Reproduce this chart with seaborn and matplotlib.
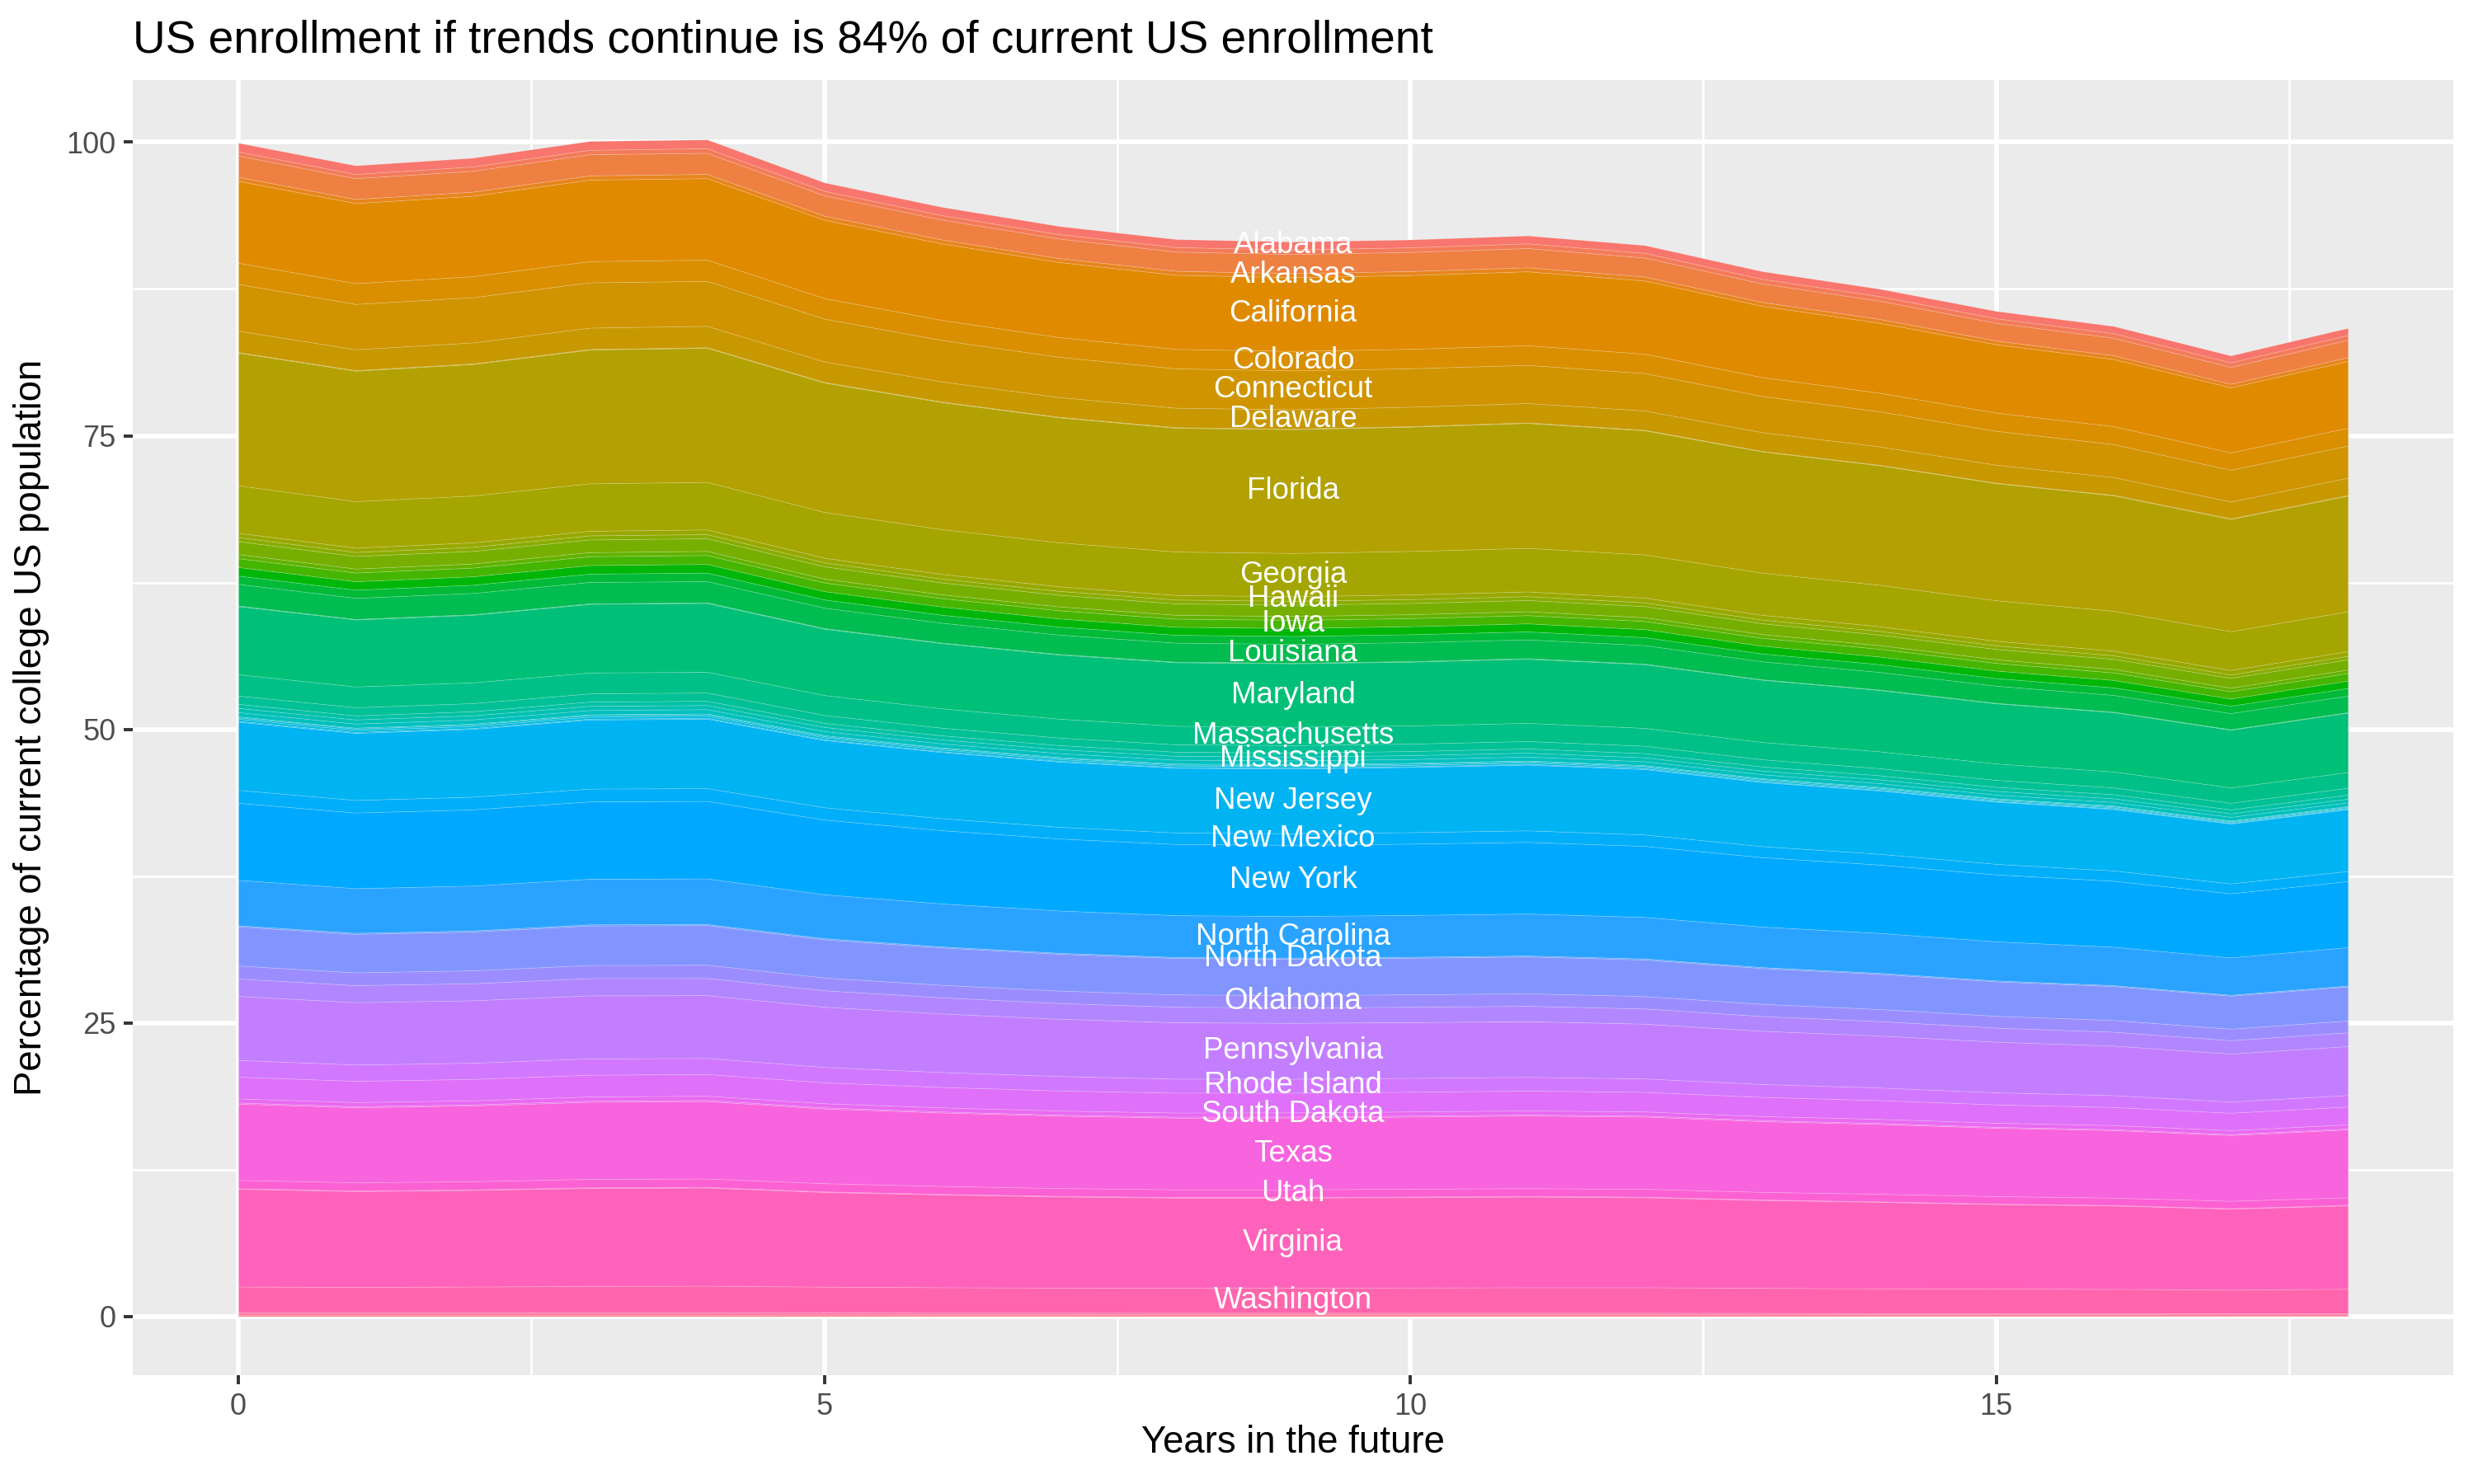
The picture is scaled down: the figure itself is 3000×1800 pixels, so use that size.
import numpy as np
import pandas as pd
import matplotlib
matplotlib.use("Agg")
import matplotlib.pyplot as plt
import seaborn as sns

# ---------------- data ----------------
years = list(range(19))

states = ["Alabama", "Alaska", "Arizona", "Arkansas", "California", "Colorado", "Connecticut",
          "Delaware", "District of Columbia", "Florida", "Georgia", "Hawaii", "Idaho", "Illinois",
          "Indiana", "Iowa", "Kansas", "Kentucky", "Louisiana", "Maine", "Maryland", "Massachusetts",
          "Michigan", "Minnesota", "Mississippi", "Missouri", "Montana", "Nebraska", "Nevada",
          "New Hampshire", "New Jersey", "New Mexico", "New York", "North Carolina", "North Dakota",
          "Ohio", "Oklahoma", "Oregon", "Pennsylvania", "Rhode Island", "South Carolina",
          "South Dakota", "Tennessee", "Texas", "Utah", "Vermont", "Virginia", "Washington",
          "West Virginia", "Wisconsin", "Wyoming"]

alabama = [0.75,0.73,0.74,0.75,0.75,0.72,0.70,0.69,0.68,0.67,0.67,0.67,0.66,0.65,0.63,0.62,0.61,0.59,0.61]
alaska = [0.34,0.36,0.37,0.38,0.39,0.38,0.38,0.38,0.38,0.39,0.39,0.40,0.40,0.39,0.39,0.39,0.39,0.38,0.40]
arizona = [1.81,1.77,1.78,1.80,1.80,1.73,1.69,1.66,1.64,1.63,1.63,1.64,1.62,1.58,1.55,1.51,1.49,1.44,1.48]
arkansas = [0.35,0.35,0.35,0.36,0.36,0.35,0.34,0.34,0.34,0.34,0.34,0.34,0.34,0.33,0.33,0.32,0.32,0.31,0.32]
california = [6.97,6.82,6.85,6.94,6.94,6.67,6.52,6.39,6.31,6.28,6.28,6.30,6.23,6.07,5.96,5.82,5.72,5.54,5.69]
colorado = [1.81,1.77,1.79,1.81,1.81,1.75,1.71,1.68,1.66,1.66,1.66,1.67,1.65,1.61,1.58,1.55,1.53,1.48,1.52]
connecticut = [3.98,3.86,3.85,3.86,3.83,3.65,3.53,3.43,3.35,3.31,3.28,3.25,3.19,3.08,2.99,2.89,2.81,2.70,2.74]
delaware = [1.82,1.78,1.79,1.82,1.82,1.75,1.71,1.68,1.66,1.65,1.65,1.65,1.64,1.60,1.57,1.53,1.51,1.44,1.48]
district_of_columbia = [0.05,0.05,0.05,0.05,0.05,0.05,0.05,0.05,0.05,0.05,0.05,0.05,0.05,0.04,0.04,0.04,0.04,0.04,0.04]
florida = [11.30,11.11,11.20,11.39,11.42,11.02,10.82,10.64,10.54,10.54,10.58,10.64,10.57,10.33,10.18,9.97,9.84,9.57,9.86]
georgia = [4.04,3.96,3.99,4.04,4.05,3.90,3.82,3.75,3.70,3.69,3.70,3.71,3.68,3.59,3.53,3.45,3.40,3.30,3.39]
hawaii = [0.37,0.37,0.38,0.39,0.40,0.39,0.39,0.39,0.39,0.39,0.40,0.40,0.40,0.40,0.40,0.39,0.39,0.38,0.40]
idaho = [0.35,0.34,0.35,0.35,0.35,0.34,0.33,0.33,0.33,0.33,0.33,0.33,0.32,0.32,0.31,0.31,0.30,0.29,0.30]
illinois = [1.10,1.07,1.07,1.08,1.08,1.04,1.01,0.99,0.97,0.96,0.96,0.96,0.95,0.92,0.90,0.88,0.86,0.84,0.87]
indiana = [0.35,0.34,0.35,0.35,0.35,0.34,0.33,0.33,0.33,0.33,0.33,0.33,0.32,0.32,0.31,0.31,0.30,0.30,0.30]
iowa = [0.75,0.74,0.74,0.75,0.76,0.73,0.71,0.70,0.69,0.69,0.69,0.70,0.69,0.67,0.66,0.65,0.64,0.62,0.64]
kansas = [0.73,0.72,0.72,0.73,0.74,0.71,0.70,0.69,0.68,0.68,0.68,0.68,0.68,0.66,0.65,0.64,0.63,0.61,0.63]
kentucky = [0.70,0.69,0.70,0.71,0.72,0.70,0.68,0.68,0.67,0.67,0.68,0.68,0.68,0.67,0.66,0.65,0.64,0.63,0.65]
louisiana = [1.85,1.80,1.81,1.82,1.81,1.74,1.69,1.65,1.62,1.61,1.61,1.60,1.58,1.53,1.50,1.46,1.43,1.38,1.41]
maine = [0.05,0.05,0.05,0.05,0.05,0.05,0.05,0.05,0.05,0.05,0.05,0.05,0.05,0.04,0.04,0.04,0.04,0.04,0.04]
maryland = [5.80,5.70,5.75,5.84,5.86,5.65,5.55,5.46,5.41,5.40,5.43,5.46,5.42,5.30,5.22,5.12,5.05,4.91,5.06]
massachusetts = [1.82,1.77,1.77,1.78,1.77,1.70,1.65,1.61,1.58,1.56,1.55,1.55,1.52,1.47,1.44,1.40,1.36,1.31,1.34]
michigan = [0.70,0.69,0.69,0.70,0.70,0.67,0.65,0.64,0.63,0.63,0.63,0.63,0.63,0.61,0.60,0.59,0.58,0.56,0.58]
minnesota = [0.35,0.35,0.35,0.36,0.36,0.35,0.35,0.35,0.35,0.35,0.35,0.36,0.36,0.35,0.35,0.35,0.35,0.34,0.35]
mississippi = [0.36,0.35,0.35,0.36,0.36,0.35,0.34,0.33,0.33,0.33,0.33,0.33,0.33,0.32,0.32,0.31,0.31,0.30,0.31]
missouri = [0.36,0.35,0.36,0.36,0.36,0.35,0.34,0.34,0.33,0.33,0.33,0.34,0.33,0.33,0.32,0.32,0.31,0.31,0.32]
montana = [0.08,0.08,0.08,0.08,0.08,0.08,0.07,0.07,0.07,0.07,0.07,0.07,0.07,0.07,0.07,0.06,0.06,0.06,0.06]
nebraska = [0.12,0.12,0.12,0.12,0.12,0.11,0.11,0.11,0.10,0.10,0.10,0.10,0.10,0.10,0.09,0.09,0.09,0.08,0.08]
nevada = [0.18,0.17,0.17,0.17,0.17,0.16,0.15,0.14,0.13,0.13,0.12,0.12,0.11,0.11,0.10,0.09,0.09,0.08,0.08]
new_hampshire = [0.08,0.08,0.08,0.08,0.08,0.07,0.07,0.07,0.06,0.06,0.06,0.06,0.06,0.05,0.05,0.05,0.05,0.04,0.04]
new_jersey = [5.80,5.71,5.77,5.88,5.91,5.72,5.63,5.55,5.51,5.52,5.55,5.60,5.57,5.46,5.39,5.29,5.23,5.10,5.27]
new_mexico = [1.10,1.07,1.08,1.09,1.09,1.05,1.02,1.00,0.98,0.98,0.98,0.98,0.97,0.94,0.92,0.90,0.88,0.84,0.86]
new_york = [6.56,6.44,6.49,6.59,6.60,6.36,6.24,6.13,6.06,6.06,6.07,6.10,6.05,5.91,5.82,5.70,5.62,5.46,5.62]
north_carolina = [3.87,3.80,3.82,3.88,3.88,3.74,3.66,3.60,3.56,3.55,3.56,3.57,3.54,3.45,3.40,3.33,3.27,3.18,3.27]
north_dakota = [0.10,0.10,0.10,0.10,0.10,0.10,0.09,0.09,0.09,0.09,0.09,0.09,0.09,0.09,0.09,0.08,0.08,0.08,0.08]
ohio = [3.33,3.27,3.30,3.36,3.37,3.25,3.18,3.13,3.10,3.10,3.11,3.13,3.11,3.04,2.99,2.93,2.89,2.81,2.90]
oklahoma = [1.11,1.09,1.10,1.12,1.13,1.09,1.07,1.06,1.05,1.05,1.06,1.07,1.06,1.04,1.03,1.01,1.00,0.98,1.01]
oregon = [1.48,1.45,1.45,1.47,1.46,1.40,1.37,1.34,1.32,1.31,1.31,1.31,1.29,1.26,1.23,1.20,1.18,1.14,1.17]
pennsylvania = [5.45,5.31,5.32,5.37,5.35,5.13,4.99,4.88,4.80,4.76,4.75,4.74,4.67,4.53,4.43,4.31,4.22,4.08,4.17]
rhode_island = [1.43,1.39,1.38,1.39,1.37,1.31,1.27,1.23,1.20,1.19,1.18,1.17,1.14,1.10,1.07,1.03,1.01,0.96,0.98]
south_carolina = [1.85,1.81,1.82,1.85,1.85,1.78,1.74,1.71,1.69,1.68,1.68,1.69,1.67,1.63,1.60,1.56,1.54,1.48,1.52]
south_dakota = [0.35,0.35,0.35,0.36,0.36,0.35,0.35,0.35,0.35,0.35,0.35,0.35,0.35,0.35,0.35,0.35,0.35,0.34,0.35]
tennessee = [0.10,0.10,0.10,0.10,0.10,0.10,0.09,0.09,0.09,0.09,0.09,0.09,0.09,0.09,0.09,0.08,0.08,0.08,0.08]
texas = [6.49,6.38,6.44,6.56,6.59,6.36,6.25,6.16,6.10,6.11,6.14,6.18,6.15,6.02,5.94,5.82,5.75,5.60,5.78]
utah = [0.71,0.70,0.70,0.72,0.72,0.70,0.68,0.67,0.66,0.66,0.67,0.67,0.67,0.65,0.65,0.64,0.63,0.63,0.65]
vermont = [0.05,0.05,0.05,0.05,0.05,0.05,0.05,0.05,0.05,0.05,0.05,0.05,0.05,0.04,0.04,0.04,0.04,0.04,0.04]
virginia = [8.32,8.16,8.22,8.35,8.36,8.06,7.90,7.76,7.68,7.67,7.69,7.72,7.66,7.48,7.36,7.20,7.10,6.89,7.10]
washington = [2.19,2.16,2.19,2.24,2.26,2.19,2.16,2.13,2.12,2.13,2.15,2.17,2.17,2.13,2.11,2.08,2.06,2.01,2.08]
west_virginia = [0.12,0.12,0.12,0.12,0.12,0.12,0.11,0.11,0.11,0.11,0.11,0.11,0.11,0.11,0.10,0.10,0.10,0.10,0.10]
wisconsin = [0.12,0.12,0.12,0.12,0.12,0.12,0.11,0.11,0.11,0.11,0.11,0.11,0.11,0.11,0.10,0.10,0.10,0.10,0.10]
wyoming = [0.10,0.10,0.10,0.10,0.10,0.09,0.09,0.09,0.08,0.08,0.08,0.08,0.08,0.07,0.07,0.07,0.07,0.06,0.06]

series = [alabama, alaska, arizona, arkansas, california, colorado, connecticut, delaware,
          district_of_columbia, florida, georgia, hawaii, idaho, illinois, indiana, iowa, kansas,
          kentucky, louisiana, maine, maryland, massachusetts, michigan, minnesota, mississippi,
          missouri, montana, nebraska, nevada, new_hampshire, new_jersey, new_mexico, new_york,
          north_carolina, north_dakota, ohio, oklahoma, oregon, pennsylvania, rhode_island,
          south_carolina, south_dakota, tennessee, texas, utah, vermont, virginia, washington,
          west_virginia, wisconsin, wyoming]

labelled = ["Alabama", "Arkansas", "California", "Colorado", "Connecticut", "Delaware", "Florida",
            "Georgia", "Hawaii", "Iowa", "Louisiana", "Maryland", "Massachusetts", "Mississippi",
            "New Jersey", "New Mexico", "New York", "North Carolina", "North Dakota", "Oklahoma",
            "Pennsylvania", "Rhode Island", "South Dakota", "Texas", "Utah", "Virginia", "Washington"]
label_year = 9

title = "US enrollment if trends continue is 84% of current US enrollment"
x_title = "Years in the future"
y_title = "Percentage of current college US population"
x_ticks = [0, 5, 10, 15]
y_ticks = [0, 25, 50, 75, 100]

# long table
df = pd.DataFrame({"state": np.repeat(states, len(years)),
                   "year": np.tile(years, len(states)),
                   "pct": np.concatenate([np.asarray(s, float) for s in series])})
wide = df.pivot(index="year", columns="state", values="pct")[states]


# ggplot2 default hue palette (hcl, c=100, l=65)
def hcl_hex(h, c=100.0, l=65.0):
    hr = np.deg2rad(h)
    U, V = c * np.cos(hr), c * np.sin(hr)
    Xn, Yn, Zn = 95.047, 100.0, 108.883
    un = 4 * Xn / (Xn + 15 * Yn + 3 * Zn)
    vn = 9 * Yn / (Xn + 15 * Yn + 3 * Zn)
    Y = Yn * ((l + 16) / 116) ** 3
    u = U / (13 * l) + un
    v = V / (13 * l) + vn
    X = 9.0 * Y * u / (4 * v)
    Z = -X / 3 - 5 * Y + 3 * Y / v
    X, Y, Z = X / 100, Y / 100, Z / 100
    r = 3.240479 * X - 1.537150 * Y - 0.498535 * Z
    g = -0.969256 * X + 1.875992 * Y + 0.041556 * Z
    b = 0.055648 * X - 0.204043 * Y + 1.057311 * Z

    def gam(t):
        t = 12.92 * t if t <= 0.0031308 else 1.055 * t ** (1 / 2.4) - 0.055
        return min(max(t, 0.0), 1.0)
    return (gam(r), gam(g), gam(b))


n = len(states)
palette = [hcl_hex(15 + 360 * i / n) for i in range(n)]

# ---------------- style ----------------
sns.set_theme(style="darkgrid", rc={
    "axes.facecolor": "#EBEBEB",
    "figure.facecolor": "white",
    "grid.color": "white",
    "axes.edgecolor": "#EBEBEB",
})
plt.rcParams["font.family"] = ["Liberation Sans", "DejaVu Sans"]

fig = plt.figure(figsize=(15, 9), dpi=200)
ax = fig.add_axes([161 / 3000, 1 - 1668 / 1800, (2975 - 161) / 3000, (1668 - 97) / 1800])

# ggplot stacks first level on top -> draw in reverse order from bottom
order = states[::-1]
ys = [wide[s].values for s in order]
cols = palette[::-1]
ax.stackplot(wide.index.values, ys, colors=cols, linewidth=0.3,
             edgecolor=(1, 1, 1, 0.2), zorder=2)

# labels at the middle of each labelled band
cum = wide[order].cumsum(axis=1)
for s in labelled:
    top = cum.loc[label_year, s]
    mid = top - wide.loc[label_year, s] / 2
    ax.text(label_year, mid, s, color="white", fontsize=13.2, ha="center", va="center", zorder=5)

ax.set_xlim(-0.9, 18.9)
ax.set_ylim(-5.015, 105.3)
ax.set_xticks(x_ticks)
ax.set_yticks(y_ticks)
ax.set_xticks([2.5, 7.5, 12.5, 17.5], minor=True)
ax.set_yticks([12.5, 37.5, 62.5, 87.5], minor=True)
ax.grid(which="major", color="white", linewidth=2.0, zorder=0)
ax.grid(which="minor", color="white", linewidth=1.0, zorder=0)
ax.set_axisbelow(True)
for sp in ax.spines.values():
    sp.set_visible(False)
ax.tick_params(axis="both", which="major", length=4, width=1.4, color="#333333",
               labelsize=13.0, labelcolor="#4D4D4D", pad=3.5, bottom=True, left=True)
ax.tick_params(axis="both", which="minor", length=0)

ax.set_xlabel(x_title, fontsize=16.4, color="black")
ax.set_ylabel(y_title, fontsize=16.4, color="black")
ax.xaxis.set_label_coords(0.5, -0.052)
ax.xaxis.label.set_va("center")
ax.yaxis.set_label_coords(-0.0437, 0.5)
ax.yaxis.label.set_va("center")

fig.text(161 / 3000, 1 - 63 / 1800, title, fontsize=19.8, color="black", ha="left", va="baseline")

fig.savefig("out.png", dpi=200)
